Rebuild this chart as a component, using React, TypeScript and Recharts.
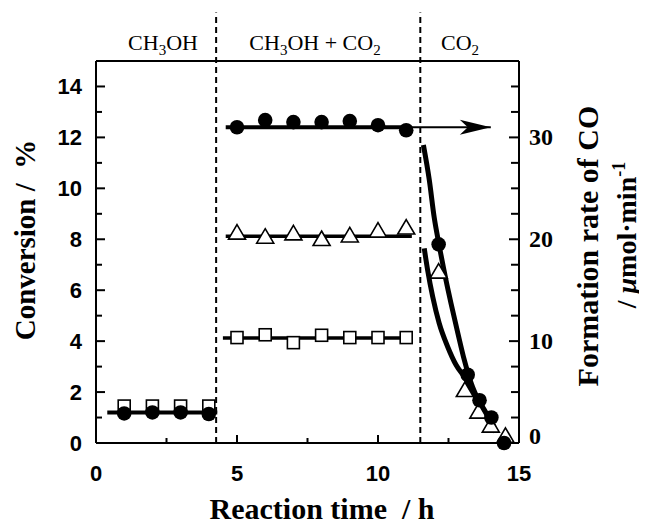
import React from 'react'
import { ComposedChart, Line, XAxis, YAxis, ReferenceLine } from 'recharts'

// CH3OH only (h)
const ch3ohTime = [1, 2, 3, 4]
const ch3ohSquares = [1.45, 1.45, 1.45, 1.45]
const ch3ohCircles = [2.9, 3.0, 3.0, 2.85] // CO rate, right axis
const ch3ohFitTime = [0.4, 4.3]
const ch3ohFit = [3.0, 3.0]

// CH3OH + CO2
const mixTime = [5, 6, 7, 8, 9, 10, 11]
const mixCircles = [31.0, 31.7, 31.5, 31.5, 31.6, 31.2, 30.7]
const mixTriangles = [8.28, 8.12, 8.25, 8.03, 8.17, 8.36, 8.48]
const mixSquares = [4.14, 4.25, 3.94, 4.23, 4.14, 4.14, 4.14]
const circleFitTime = [4.6, 11.1]
const circleFit = [31.0, 31.0]
const arrowTime = [11.0, 14.0]
const arrowRate = [31.0, 31.0]
const triFitTime = [4.6, 11.2]
const triFit = [8.12, 8.12]
const sqFitTime = [4.5, 11.0]
const sqFit = [4.12, 4.12]

// CO2 only
const decayCircleTime = [12.15, 13.18, 13.6, 14.02, 14.47]
const decayCircles = [19.5, 6.7, 4.2, 2.5, 0]
const decayTriTime = [12.15, 13.08, 13.56, 14.0, 14.52]
const decayTriangles = [6.75, 2.1, 1.25, 0.7, 0.3]
const upperCurveTime = [11.61, 11.82, 11.99, 12.17, 12.41, 12.59, 12.83, 13.06, 13.3, 13.59, 14.0, 14.18]
const upperCurve = [29.25, 25.8, 22.2, 19.4, 16.0, 13.7, 10.8, 8.15, 5.9, 4.0, 1.96, 1.08]
const lowerCurveTime = [11.64, 11.76, 11.94, 12.17, 12.47, 12.77, 13.06, 13.42, 13.77, 14.12]
const lowerCurve = [7.64, 6.79, 5.74, 4.7, 3.78, 3.06, 2.6, 1.95, 1.3, 0.64]

const phaseSwitch = [4.26, 11.5]
const xTicks = [0, 2.5, 5, 7.5, 10, 12.5, 15]
const leftTicks = [0, 1, 2, 3, 4, 5, 6, 7, 8, 9, 10, 11, 12, 13, 14]
const rightTicks = [0, 2.5, 5, 7.5, 10, 12.5, 15, 17.5, 20, 22.5, 25, 27.5, 30, 32.5, 35]

const pts = (xs: number[], ys: number[]) => xs.map((x, i) => ({ x, y: ys[i] }))

const SANS = 'Liberation Sans, Arial, sans-serif'
const SERIF = 'Liberation Serif, Times New Roman, serif'

const circleDot = (p: any) => <circle key={p.index} cx={p.cx} cy={p.cy} r={7.3} fill="#000" />
const squareDot = (p: any) => (
  <rect key={p.index} x={p.cx - 6} y={p.cy - 6} width={12} height={12} fill="#fff" stroke="#000" strokeWidth={1.6} />
)
const triDot = (p: any) => (
  <polygon key={p.index} points={`${p.cx},${p.cy - 7.5} ${p.cx + 8.5},${p.cy + 7} ${p.cx - 8.5},${p.cy + 7}`}
    fill="#fff" stroke="#000" strokeWidth={1.6} />
)
const arrowDot = (p: any) => {
  if (p.index !== arrowTime.length - 1) return <g key={p.index} />
  const { cx, cy } = p
  return <polygon key={p.index} points={`${cx},${cy} ${cx - 31},${cy - 7.5} ${cx - 23},${cy} ${cx - 31},${cy + 7.5}`} fill="#000" />
}

const LeftTick = ({ x, y, payload }: any) => {
  const major = payload.value % 2 === 0
  return (
    <g>
      <line x1={x} x2={x + (major ? 9 : 6)} y1={y} y2={y} stroke="#000" strokeWidth={2} />
      {major && (
        <text x={x - 14} y={y} dy={8} textAnchor="end" fontFamily={SANS} fontWeight="bold" fontSize={22} fill="#000">
          {payload.value}
        </text>
      )}
    </g>
  )
}

const RightTick = ({ x, y, payload }: any) => {
  const major = payload.value % 10 === 0
  return (
    <g>
      <line x1={x} x2={x - (major ? 10 : 8)} y1={y} y2={y} stroke="#000" strokeWidth={2} />
      {major && (
        <text x={x + 10} y={y} dy={payload.value === 0 ? 1 : 8} textAnchor="start" fontFamily={SERIF} fontWeight="bold" fontSize={24} fill="#000">
          {payload.value}
        </text>
      )}
    </g>
  )
}

const BottomTick = ({ x, y, payload }: any) => {
  const major = payload.value % 5 === 0
  return (
    <g>
      <line x1={x} x2={x} y1={y} y2={y - (major ? 8 : 5)} stroke="#000" strokeWidth={2} />
      {major && (
        <text x={x} y={y + 38} textAnchor="middle" fontFamily={SANS} fontWeight="bold" fontSize={22} fill="#000">
          {payload.value}
        </text>
      )}
    </g>
  )
}

export default function App() {
  return (
    <div style={{ position: 'relative', width: 639, height: 518 }}>
      <ComposedChart width={630} height={510} margin={{ top: 53, right: 0, bottom: 0, left: 0 }}>
        <XAxis dataKey="x" type="number" domain={[0, 15]} ticks={xTicks} interval={0} height={75}
          tickSize={0} tickMargin={0} tick={BottomTick} tickLine={false} axisLine={{ stroke: '#000', strokeWidth: 2 }} />
        <YAxis yAxisId="left" type="number" domain={[0, 15]} ticks={leftTicks} interval={0} width={88}
          tickSize={0} tickMargin={0} tick={LeftTick} tickLine={false} axisLine={{ stroke: '#000', strokeWidth: 2 }} />
        <YAxis yAxisId="right" orientation="right" type="number" domain={[0, 37.5]} ticks={rightTicks} interval={0} width={119}
          tickSize={0} tickMargin={0} tick={RightTick} tickLine={false} axisLine={{ stroke: '#000', strokeWidth: 2 }} />

        <ReferenceLine yAxisId="left" y={15} stroke="#000" strokeWidth={2} />
        {phaseSwitch.map(t => (
          <ReferenceLine key={t} yAxisId="left" ifOverflow="visible" stroke="#000" strokeWidth={2} strokeDasharray="6 4"
            segment={[{ x: t, y: 0 }, { x: t, y: 16.9 }]} />
        ))}

        {/* fit lines */}
        <Line yAxisId="right" data={pts(ch3ohFitTime, ch3ohFit)} dataKey="y" stroke="#000" strokeWidth={4} dot={false} isAnimationActive={false} />
        <Line yAxisId="right" data={pts(circleFitTime, circleFit)} dataKey="y" stroke="#000" strokeWidth={4} dot={false} isAnimationActive={false} />
        <Line yAxisId="right" data={pts(arrowTime, arrowRate)} dataKey="y" stroke="#000" strokeWidth={2} dot={arrowDot} isAnimationActive={false} />
        <Line yAxisId="left" data={pts(triFitTime, triFit)} dataKey="y" stroke="#000" strokeWidth={3.5} dot={false} isAnimationActive={false} />
        <Line yAxisId="left" data={pts(sqFitTime, sqFit)} dataKey="y" stroke="#000" strokeWidth={3.5} dot={false} isAnimationActive={false} />
        <Line yAxisId="right" type="monotone" data={pts(upperCurveTime, upperCurve)} dataKey="y" stroke="#000" strokeWidth={5} dot={false} isAnimationActive={false} />
        <Line yAxisId="left" type="monotone" data={pts(lowerCurveTime, lowerCurve)} dataKey="y" stroke="#000" strokeWidth={5} dot={false} isAnimationActive={false} />

        {/* markers */}
        <Line yAxisId="left" data={pts(ch3ohTime, ch3ohSquares)} dataKey="y" stroke="none" dot={squareDot} isAnimationActive={false} />
        <Line yAxisId="right" data={pts(ch3ohTime, ch3ohCircles)} dataKey="y" stroke="none" dot={circleDot} isAnimationActive={false} />
        <Line yAxisId="left" data={pts(mixTime, mixSquares)} dataKey="y" stroke="none" dot={squareDot} isAnimationActive={false} />
        <Line yAxisId="left" data={pts(mixTime, mixTriangles)} dataKey="y" stroke="none" dot={triDot} isAnimationActive={false} />
        <Line yAxisId="right" data={pts(mixTime, mixCircles)} dataKey="y" stroke="none" dot={circleDot} isAnimationActive={false} />
        <Line yAxisId="left" data={pts(decayTriTime, decayTriangles)} dataKey="y" stroke="none" dot={triDot} isAnimationActive={false} />
        <Line yAxisId="right" data={pts(decayCircleTime, decayCircles)} dataKey="y" stroke="none" dot={circleDot} isAnimationActive={false} />
      </ComposedChart>

      <svg width={639} height={518} style={{ position: 'absolute', left: 0, top: 0, overflow: 'visible', pointerEvents: 'none' }}>
        <g transform="translate(-8 -8)">
          <g fontFamily={SERIF} fontSize={22} fill="#000" textAnchor="middle">
            <text x={163} y={50}>CH<tspan dy={5} fontSize={15}>3</tspan><tspan dy={-5}>OH</tspan></text>
            <text x={315} y={50}>CH<tspan dy={5} fontSize={15}>3</tspan><tspan dy={-5}>OH + CO</tspan><tspan dy={5} fontSize={15}>2</tspan></text>
            <text x={460} y={50}>CO<tspan dy={5} fontSize={15}>2</tspan></text>
          </g>
          <g fontFamily={SERIF} fontWeight="bold" fill="#000" textAnchor="middle">
            <text x={322} y={519} fontSize={30} style={{ whiteSpace: 'pre' }}>Reaction time  / h</text>
            <text x={35} y={240} fontSize={29} transform="rotate(-90 35 240)" style={{ whiteSpace: 'pre' }}>Conversion /  %</text>
            <text x={598} y={246} fontSize={30} transform="rotate(-90 598 246)">Formation rate of CO</text>
            <text x={636} y={235} fontSize={28} transform="rotate(-90 636 235)">
              / <tspan fontStyle="italic">μ</tspan>mol·min<tspan dy={-11} fontSize={18}>-1</tspan>
            </text>
          </g>
        </g>
      </svg>
    </div>
  )
}
